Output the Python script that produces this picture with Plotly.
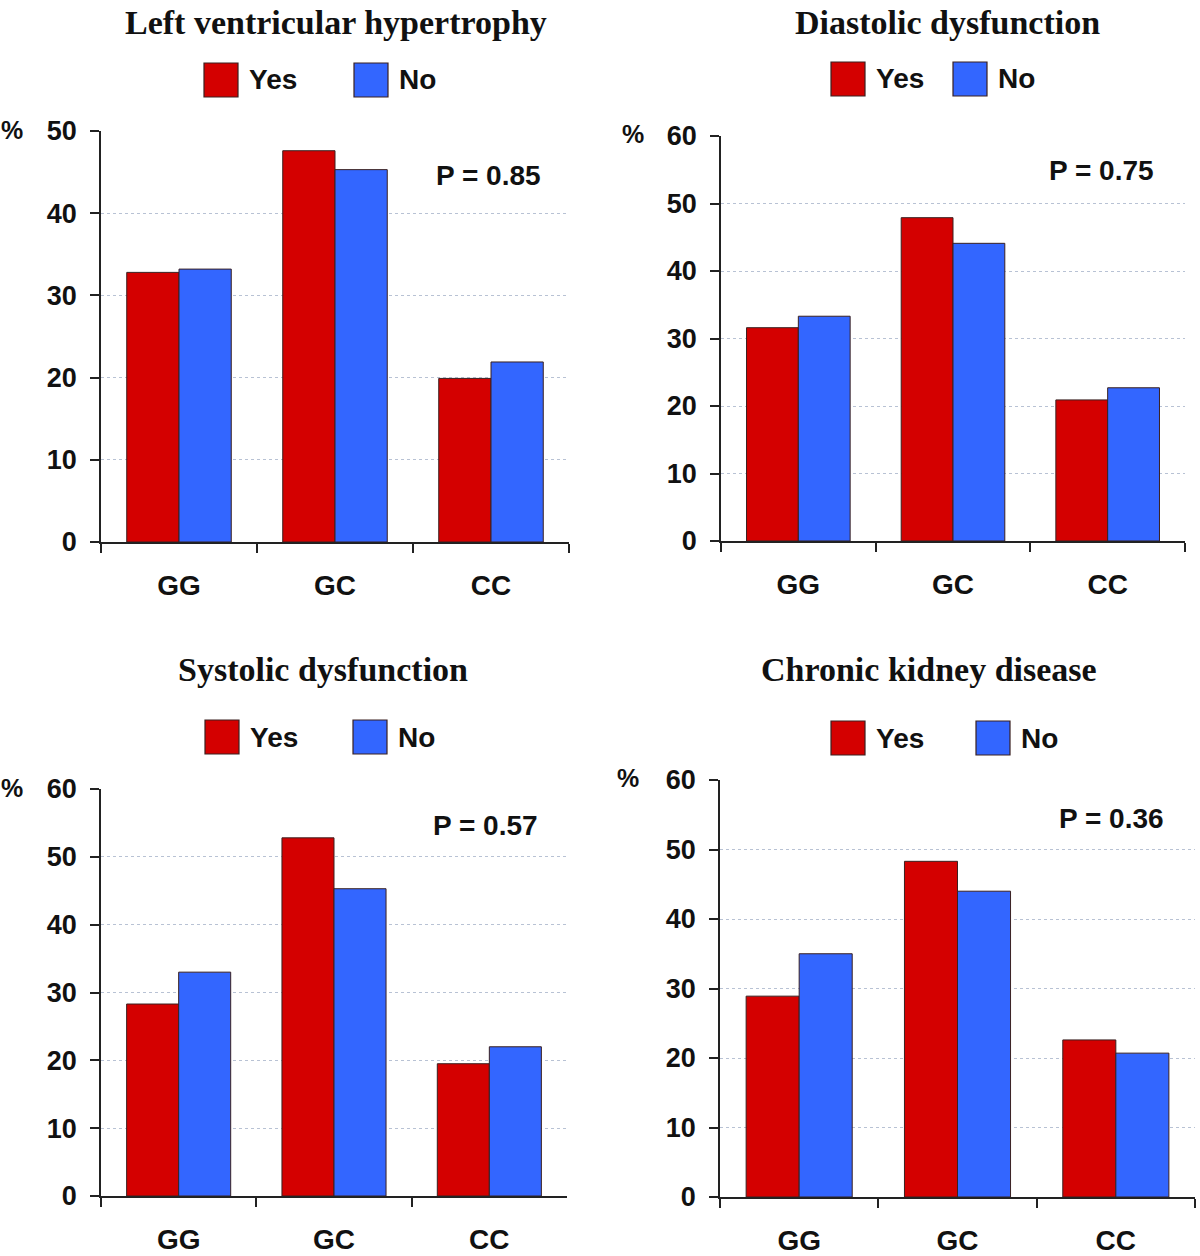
import plotly.graph_objects as go

# data
categories = ["GG", "GC", "CC"]
titles = ["Left ventricular hypertrophy", "Diastolic dysfunction",
          "Systolic dysfunction", "Chronic kidney disease"]
p_labels = ["P = 0.85", "P = 0.75", "P = 0.57", "P = 0.36"]
y_max = [50, 60, 60, 60]

lvh_yes = [32.8, 47.6, 19.9]
lvh_no = [33.2, 45.3, 21.9]
dd_yes = [31.6, 47.9, 20.9]
dd_no = [33.3, 44.1, 22.7]
sd_yes = [28.3, 52.8, 19.5]
sd_no = [33.0, 45.3, 22.0]
ckd_yes = [28.9, 48.3, 22.6]
ckd_no = [35.0, 44.0, 20.7]

yes_vals = [lvh_yes, dd_yes, sd_yes, ckd_yes]
no_vals = [lvh_no, dd_no, sd_no, ckd_no]

W, H = 1200, 1256
RED = "#d40000"
BLUE = "#3366ff"
EDGE = "#3a2020"
SANS = "Liberation Sans, Arial, sans-serif"
SERIF = "Liberation Serif, Times New Roman, serif"

# plot areas in pixels: (left, right, bottom, top)
boxes = [(101, 569, 542, 131), (721, 1185, 541, 136),
         (101, 567, 1196, 789), (720, 1195, 1197, 780)]
# title centre, legend red box left, blue box left, legend row centre
title_pos = [(336, 22), (947, 22), (323, 669), (929, 669)]
legend_pos = [(204, 354, 80), (831, 953, 79), (205, 353, 737), (831, 976, 738)]
pct_pos = [(12, 130), (633, 134), (12, 788), (628, 778)]
p_pos = [(488, 176), (1101, 170), (485, 825), (1111, 818)]


def px(x):
    return x / W


def py(y):
    return 1 - y / H


fig = go.Figure()
shapes = []
annotations = []

for i in range(4):
    xa = "x" if i == 0 else f"x{i+1}"
    ya = "y" if i == 0 else f"y{i+1}"
    fig.add_trace(go.Bar(x=categories, y=yes_vals[i], name="Yes",
                         marker=dict(color=RED, line=dict(color=EDGE, width=1)),
                         xaxis=xa, yaxis=ya, showlegend=False))
    fig.add_trace(go.Bar(x=categories, y=no_vals[i], name="No",
                         marker=dict(color=BLUE, line=dict(color=EDGE, width=1)),
                         xaxis=xa, yaxis=ya, showlegend=False))

    l, r, b, t = boxes[i]
    xkey = "xaxis" if i == 0 else f"xaxis{i+1}"
    ykey = "yaxis" if i == 0 else f"yaxis{i+1}"
    fig.layout[xkey] = dict(
        domain=[px(l), px(r)], anchor=ya, type="category", automargin=False,
        showline=True, linecolor="#222", linewidth=1.5,
        ticks="outside", tickson="boundaries", ticklen=9, tickcolor="#222",
        tickwidth=1.5, showgrid=False, ticklabelstandoff=18,
        tickfont=dict(family=SANS, size=28, color="#111", weight="bold"))
    fig.layout[ykey] = dict(
        domain=[py(b), py(t)], anchor=xa, range=[0, y_max[i]], dtick=10,
        automargin=False,
        showline=True, linecolor="#222", linewidth=1.5,
        ticks="outside", ticklen=9, tickcolor="#222", tickwidth=1.5,
        showgrid=True, gridcolor="#b8c2d4", griddash="dot", gridwidth=1,
        zeroline=False, ticklabelstandoff=8,
        tickfont=dict(family=SANS, size=27, color="#111", weight="bold"))

    tx, ty = title_pos[i]
    annotations.append(dict(text=f"<b>{titles[i]}</b>", x=px(tx), y=py(ty),
                            xref="paper", yref="paper", showarrow=False,
                            xanchor="center", yanchor="middle",
                            font=dict(family=SERIF, size=34, color="#111")))

    rx, bx, cy = legend_pos[i]
    for bx0, col, lab in [(rx, RED, "Yes"), (bx, BLUE, "No")]:
        shapes.append(dict(type="rect", xref="paper", yref="paper",
                           x0=px(bx0), x1=px(bx0 + 34), y0=py(cy + 17), y1=py(cy - 17),
                           fillcolor=col, line=dict(color=EDGE, width=1.2)))
        annotations.append(dict(text=f"<b>{lab}</b>", x=px(bx0 + 43), y=py(cy),
                                xref="paper", yref="paper", showarrow=False,
                                xanchor="left", yanchor="middle",
                                font=dict(family=SANS, size=28, color="#111")))

    cx, cy = pct_pos[i]
    annotations.append(dict(text="<b>%</b>", x=px(cx), y=py(cy), xref="paper", yref="paper",
                            showarrow=False, xanchor="center", yanchor="middle",
                            font=dict(family=SANS, size=25, color="#111")))

    cx, cy = p_pos[i]
    annotations.append(dict(text=f"<b>{p_labels[i]}</b>", x=px(cx), y=py(cy),
                            xref="paper", yref="paper", showarrow=False,
                            xanchor="center", yanchor="middle",
                            font=dict(family=SANS, size=28, color="#111")))

fig.update_layout(width=W, height=H, margin=dict(l=0, r=0, t=0, b=0),
                  paper_bgcolor="white", plot_bgcolor="white",
                  barmode="group", bargap=0.33, bargroupgap=0,
                  shapes=shapes, annotations=annotations, showlegend=False)

# drop the default page margin so the figure sits at the window corner
fig.write_html("out.html", config={"displayModeBar": False},
               post_script="document.body.style.margin='0';")
